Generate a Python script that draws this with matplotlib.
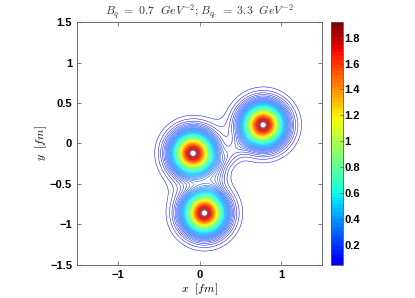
import numpy as np
import matplotlib
matplotlib.use('Agg')
import matplotlib.pyplot as plt
from matplotlib.cm import ScalarMappable
from matplotlib.colors import Normalize, ListedColormap

# Quark positions [fm]
QUARK_X = [-0.08, 0.78, 0.06]
QUARK_Y = [-0.12, 0.23, -0.86]
CORE_AMP = [1.625, 1.625, 1.625]
HALO_AMP = [0.30, 0.30, 0.30]
CORE_W = 0.037       # squared widths [fm^2]
HALO_W = 0.11
TUBE_AMP = 0.06      # weak flux tube term
TUBE_W = 0.012

LEVEL_MIN = 0.045
LEVEL_MAX = 1.92
N_LEVELS = 75
CBAR_TICKS = [0.2, 0.4, 0.6, 0.8, 1.0, 1.2, 1.4, 1.6, 1.8]
CBAR_LABELS = ['0.2', '0.4', '0.6', '0.8', '1', '1.2', '1.4', '1.6', '1.8']
X_TICKS = [-1, 0, 1]
Y_TICKS = [-1.5, -1, -0.5, 0, 0.5, 1, 1.5]
Y_LABELS = ['\u22121.5', '\u22121', '\u22120.5', '0', '0.5', '1', '1.5']
X_LABELS = ['\u22121', '0', '1']

plt.rcParams['mathtext.fontset'] = 'cm'
plt.rcParams['font.family'] = ['Liberation Sans', 'DejaVu Sans']

# matlab-like jet: pure blue at the bottom, dark red at the top
jet = plt.get_cmap('jet')
cmap = ListedColormap(jet(np.linspace(0.11, 1.0, 64)))


def seg_dist2(px, py, ax_, ay_, bx, by):
    vx, vy = bx - ax_, by - ay_
    t = ((px - ax_) * vx + (py - ay_) * vy) / (vx * vx + vy * vy)
    t = np.clip(t, 0, 1)
    dx = px - (ax_ + t * vx)
    dy = py - (ay_ + t * vy)
    return dx * dx + dy * dy


def density(X, Y):
    f = np.zeros_like(X)
    for qx, qy, a1, a2 in zip(QUARK_X, QUARK_Y, CORE_AMP, HALO_AMP):
        r2 = (X - qx) ** 2 + (Y - qy) ** 2
        f += a1 * np.exp(-r2 / CORE_W) + a2 * np.exp(-r2 / HALO_W)
    # junction point (centroid) with tubes to the quarks
    jx, jy = np.mean(QUARK_X), np.mean(QUARK_Y)
    tube = np.zeros_like(X)
    for qx, qy in zip(QUARK_X, QUARK_Y):
        tube = np.maximum(tube, np.exp(-seg_dist2(X, Y, qx, qy, jx, jy) / TUBE_W))
    return f + TUBE_AMP * tube


x = np.linspace(-1.5, 1.5, 600)
y = np.linspace(-1.5, 1.5, 600)
X, Y = np.meshgrid(x, y)
Z = density(X, Y)

fig = plt.figure(figsize=(4.15, 2.98), dpi=100)
ax = fig.add_axes([0.1855, 0.111, 0.5905, 0.815])
levels = np.linspace(LEVEL_MIN, LEVEL_MAX, N_LEVELS)
norm = Normalize(LEVEL_MIN, LEVEL_MAX)
ax.contour(X, Y, Z, levels=levels, cmap=cmap, norm=norm, linewidths=0.35)

ax.set_xlim(-1.5, 1.5)
ax.set_ylim(-1.5, 1.5)
ax.set_xticks(X_TICKS)
ax.set_xticklabels(X_LABELS)
ax.set_yticks(Y_TICKS)
ax.set_yticklabels(Y_LABELS)
ax.tick_params(direction='in', top=True, right=True, length=3, width=0.5,
               colors='#555555', labelcolor='black', labelsize=8)
for lab in ax.get_xticklabels() + ax.get_yticklabels():
    lab.set_fontweight('bold')
for sp in ax.spines.values():
    sp.set_color('#555555')
    sp.set_linewidth(0.6)

ax.set_xlabel(r'$x\ \ [fm]$', fontsize=8.5, labelpad=1)
ax.set_ylabel(r'$y\ \ [fm]$', fontsize=8.5, labelpad=1)
ax.set_title(r'$B_q\ =\ 0.7\ \ GeV^{-2};B_{q_c}\ =\ 3.3\ \ GeV^{-2}$',
             fontsize=8.5, color='#333333', pad=5)

cax = fig.add_axes([0.7976, 0.111, 0.029, 0.815])
sm = ScalarMappable(norm=norm, cmap=cmap)
cb = fig.colorbar(sm, cax=cax)
cb.set_ticks(CBAR_TICKS)
cb.set_ticklabels(CBAR_LABELS)
cax.tick_params(direction='in', length=2, width=0.5, colors='#555555',
                labelcolor='black', labelsize=8, pad=1)
for lab in cax.get_yticklabels():
    lab.set_fontweight('bold')
cb.outline.set_edgecolor('#555555')
cb.outline.set_linewidth(0.6)

fig.savefig('out.png', dpi=100)
